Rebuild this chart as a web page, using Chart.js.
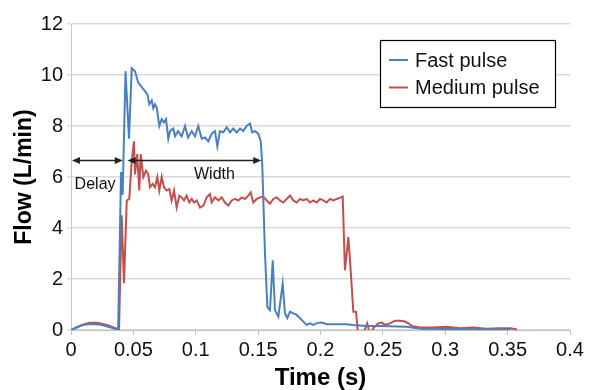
<!DOCTYPE html>
<html>
<head>
<meta charset="utf-8">
<script src="https://cdn.jsdelivr.net/npm/chart.js@4"></script>
<style>
html,body{margin:0;padding:0;background:#fff;}
#wrap{width:590px;height:390px;position:relative;}
</style>
</head>
<body>
<div id="wrap"><canvas id="c" width="590" height="390"></canvas></div>
<script>
// ---- data ----
const fastTime = [0,0.004,0.008,0.012,0.017,0.022,0.027,0.032,0.036,0.0378,0.0401,0.0414,0.0437,0.0465,0.0487,0.0513,0.0539,0.058,0.0612,0.0628,0.0647,0.066,0.0673,0.0687,0.0708,0.0727,0.0745,0.0762,0.078,0.0794,0.082,0.0834,0.0858,0.0887,0.0914,0.0938,0.0968,0.0994,0.102,0.1048,0.1074,0.1101,0.1128,0.1154,0.1173,0.1194,0.1221,0.1248,0.1275,0.1301,0.1328,0.1355,0.1381,0.1408,0.1435,0.1453,0.1475,0.1501,0.1521,0.1533,0.1555,0.1574,0.1595,0.1617,0.1635,0.1662,0.1697,0.1715,0.1734,0.1756,0.1782,0.1809,0.1836,0.1862,0.1889,0.1916,0.1942,0.197,0.201,0.205,0.213,0.221,0.2263,0.237,0.2477,0.269,0.28,0.3,0.32,0.344,0.352];
const fastFlow = [0,0.08,0.17,0.22,0.24,0.22,0.17,0.1,0.04,0.03,6.2,5.3,10.15,7.5,10.27,10.15,9.7,9.45,9.25,8.85,9.0,8.7,8.85,8.72,8.0,8.27,8.14,8.27,7.5,7.8,7.9,7.6,7.8,7.6,8.0,7.55,7.8,7.6,8.0,7.5,7.55,7.4,7.7,7.8,7.2,7.8,7.75,7.95,7.75,7.9,7.75,7.9,7.8,8.0,8.1,7.75,7.8,7.7,7.4,6.5,3.0,0.9,0.78,2.73,0.78,0.52,1.82,0.66,0.47,0.72,0.65,0.59,0.46,0.33,0.2,0.26,0.2,0.27,0.29,0.23,0.23,0.23,0.2,0.16,0.16,0.13,0.05,0.04,0.03,0.03,0.02];

const mediumTime = [0,0.005,0.01,0.015,0.02,0.025,0.03,0.035,0.0385,0.0406,0.0425,0.0447,0.0467,0.0487,0.0505,0.0513,0.0531,0.0547,0.0559,0.058,0.0601,0.062,0.0633,0.0655,0.0673,0.0692,0.0708,0.0727,0.0745,0.0767,0.0788,0.0807,0.0826,0.0847,0.0868,0.0887,0.0906,0.0927,0.0948,0.0968,0.0986,0.1008,0.1034,0.1061,0.1088,0.1114,0.1128,0.1154,0.1181,0.1208,0.1234,0.1261,0.1288,0.1315,0.1341,0.1368,0.1395,0.1421,0.144,0.1461,0.1489,0.1515,0.1541,0.1569,0.1595,0.1622,0.1649,0.1675,0.1702,0.1729,0.1756,0.1782,0.1809,0.1836,0.1862,0.1889,0.1916,0.1942,0.197,0.1996,0.2022,0.205,0.2076,0.2103,0.213,0.2156,0.2178,0.2196,0.2223,0.2242,0.2263,0.2285,0.2303,0.233,0.2375,0.2397,0.2423,0.2463,0.2491,0.2517,0.2557,0.2597,0.2637,0.2677,0.2704,0.2731,0.2798,0.2904,0.3012,0.3118,0.3225,0.3332,0.3439,0.3519,0.3573];
const mediumFlow = [0,0.12,0.22,0.28,0.28,0.25,0.18,0.08,0.03,4.5,1.83,5.08,5.14,6.64,7.4,6.1,6.9,5.47,6.9,6.0,6.25,6.1,5.6,5.73,5.6,6.0,5.47,6.0,5.6,5.47,5.53,5.08,5.47,4.8,5.27,5.2,5.08,5.27,5.0,5.14,5.0,5.08,4.8,4.88,5.2,5.33,5.0,5.2,5.08,5.2,5.0,4.88,5.08,5.14,5.08,5.2,5.14,5.27,5.4,5.0,5.14,5.2,5.23,5.08,4.95,5.14,5.2,5.08,5.0,5.14,5.27,5.08,5.0,5.14,5.08,5.14,5.0,5.08,5.0,5.14,5.08,5.0,5.14,5.08,5.14,5.18,5.23,2.34,3.64,2.34,0.72,0.72,-0.3,-0.3,0.26,-0.2,0.07,0.26,0.29,0.2,0.26,0.36,0.36,0.33,0.26,0.16,0.1,0.1,0.13,0.07,0.1,0.05,0.07,0.07,0.03];

const seriesNames = ['Fast pulse', 'Medium pulse'];
const xTickLabels = ['0','0.05','0.1','0.15','0.2','0.25','0.3','0.35','0.4'];
const yTickLabels = ['0','2','4','6','8','10','12'];
const delaySpan = [0, 0.0415];
const widthSpan = [0.0445, 0.1525];
const arrowFlow = 6.65;

const BLUE = '#4a7fc1';
const RED = '#c0504d';

const toXY = (t, f) => t.map((v, i) => ({x: v, y: f[i]}));

const annotPlugin = {
  id: 'annot',
  afterDatasetsDraw(chart) {
    const {ctx, scales: {x, y}} = chart;
    const yy = y.getPixelForValue(arrowFlow);
    ctx.save();
    ctx.strokeStyle = '#222';
    ctx.fillStyle = '#222';
    ctx.lineWidth = 1.5;
    const arrow = (x1, x2) => {
      const p1 = x.getPixelForValue(x1) + 1, p2 = x.getPixelForValue(x2);
      ctx.beginPath(); ctx.moveTo(p1 + 6, yy); ctx.lineTo(p2 - 6, yy); ctx.stroke();
      ctx.beginPath(); ctx.moveTo(p1, yy); ctx.lineTo(p1 + 8, yy - 3.5); ctx.lineTo(p1 + 8, yy + 3.5); ctx.closePath(); ctx.fill();
      ctx.beginPath(); ctx.moveTo(p2, yy); ctx.lineTo(p2 - 8, yy - 3.5); ctx.lineTo(p2 - 8, yy + 3.5); ctx.closePath(); ctx.fill();
    };
    arrow(delaySpan[0], delaySpan[1]);
    arrow(widthSpan[0], widthSpan[1]);
    ctx.fillStyle = '#111';
    ctx.font = '16px "Liberation Sans", Arial, sans-serif';
    ctx.textAlign = 'center';
    ctx.textBaseline = 'middle';
    ctx.fillText('Delay', x.getPixelForValue(0.0193), y.getPixelForValue(5.7));
    ctx.fillText('Width', x.getPixelForValue(0.115), y.getPixelForValue(6.1));
    ctx.restore();
  },
  afterDraw(chart) {
    const {ctx, chartArea} = chart;
    const bx = chartArea.right - 190, by = chartArea.top + 16, bw = 175, bh = 67;
    ctx.save();
    ctx.fillStyle = '#fff';
    ctx.fillRect(bx, by, bw, bh);
    ctx.strokeStyle = '#000';
    ctx.lineWidth = 1.2;
    ctx.strokeRect(bx + 0.5, by + 0.5, bw, bh);
    ctx.font = '20px "Liberation Sans", Arial, sans-serif';
    ctx.textBaseline = 'middle';
    ctx.textAlign = 'left';
    const cols = [BLUE, RED];
    seriesNames.forEach((n, i) => {
      const cy = by + 20 + i * 27.5;
      ctx.strokeStyle = cols[i];
      ctx.lineWidth = 2;
      ctx.beginPath(); ctx.moveTo(bx + 9, cy); ctx.lineTo(bx + 28, cy); ctx.stroke();
      ctx.fillStyle = '#111';
      ctx.fillText(n, bx + 35, cy + 1);
    });
    ctx.restore();
  }
};

new Chart(document.getElementById('c'), {
  type: 'line',
  data: {
    datasets: [
      {label: seriesNames[0], data: toXY(fastTime, fastFlow), borderColor: BLUE, backgroundColor: BLUE, borderWidth: 2, pointRadius: 0, tension: 0},
      {label: seriesNames[1], data: toXY(mediumTime, mediumFlow), borderColor: RED, backgroundColor: RED, borderWidth: 2, pointRadius: 0, tension: 0}
    ]
  },
  options: {
    responsive: false,
    animation: false,
    events: [],
    layout: {padding: {top: 24, right: 20, left: 0, bottom: 0}},
    plugins: {legend: {display: false}, tooltip: {enabled: false}},
    scales: {
      x: {
        type: 'linear', min: 0, max: 0.4,
        afterBuildTicks: s => { s.ticks = xTickLabels.map(v => ({value: parseFloat(v)})); },
        afterFit: s => { s.height = 60; },
        ticks: {callback: (v, i) => xTickLabels[i], color: '#111', padding: 3, maxRotation: 0, autoSkip: false,
          font: {family: '"Liberation Sans", Arial, sans-serif', size: 20}},
        grid: {display: true, drawOnChartArea: false, drawTicks: true, tickLength: 5, color: '#bfbfbf'},
        border: {color: '#bfbfbf', width: 1},
        title: {display: true, text: 'Time (s)', color: '#000', padding: {top: 0, bottom: 0},
          font: {family: '"Liberation Sans", Arial, sans-serif', size: 24, weight: 'bold', lineHeight: 1.0}}
      },
      y: {
        type: 'linear', min: 0, max: 12,
        afterBuildTicks: s => { s.ticks = yTickLabels.map(v => ({value: parseFloat(v)})); },
        afterFit: s => { s.width = 71; },
        ticks: {callback: (v, i) => yTickLabels[i], color: '#111', padding: 4,
          font: {family: '"Liberation Sans", Arial, sans-serif', size: 20}},
        grid: {color: '#d9d9d9', lineWidth: 1.5, tickLength: 4, drawTicks: true},
        border: {color: '#c8c8c8', width: 1},
        title: {display: true, text: 'Flow (L/min)', color: '#000', padding: {top: 11, bottom: 0},
          font: {family: '"Liberation Sans", Arial, sans-serif', size: 23, weight: 'bold'}}
      }
    }
  },
  plugins: [annotPlugin]
});
</script>
</body>
</html>
